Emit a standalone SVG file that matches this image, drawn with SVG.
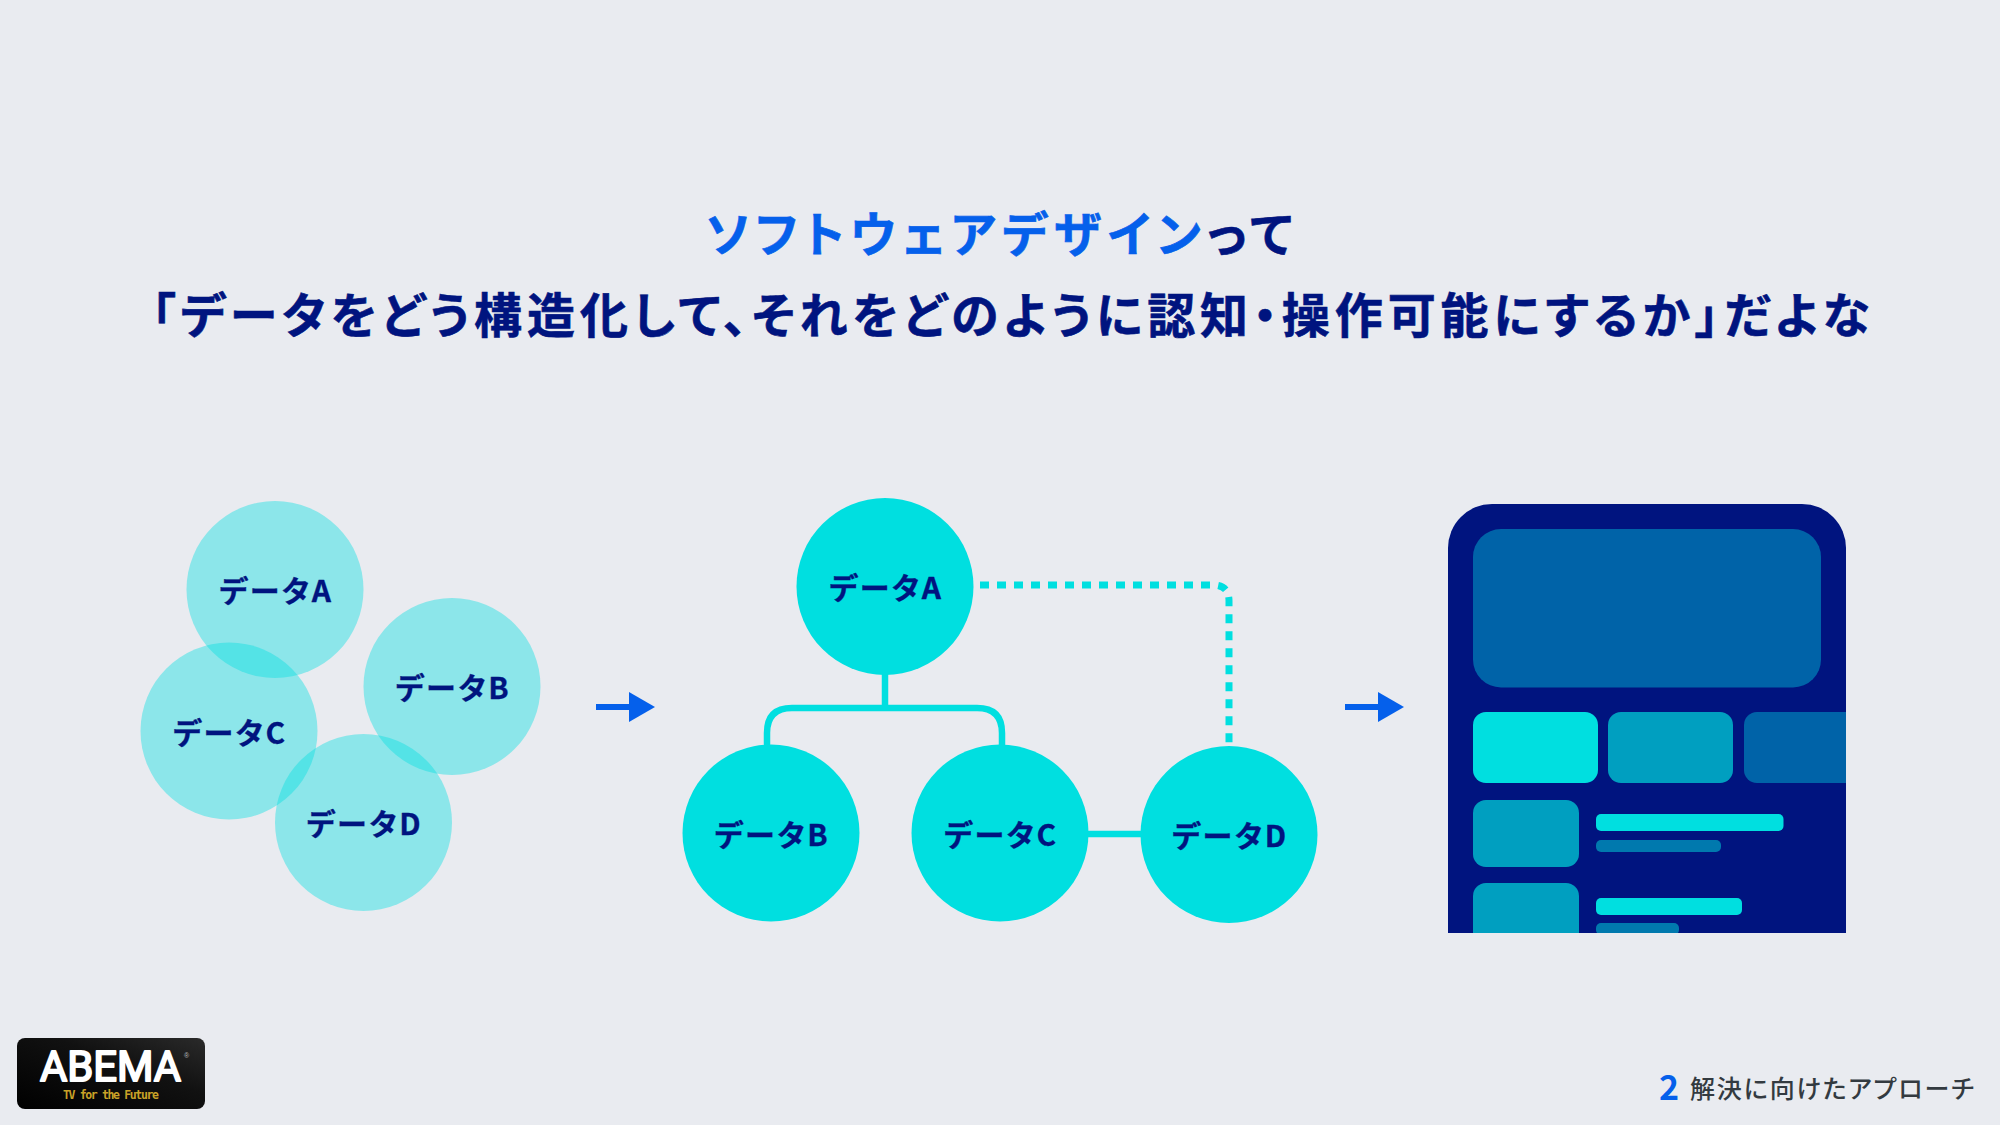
<svg xmlns="http://www.w3.org/2000/svg" width="2000" height="1125" viewBox="0 0 2000 1125">
<defs>
<style>
text{font-family:"Noto Sans CJK JP","Noto Sans",sans-serif;font-feature-settings:"palt"}
.t{font-size:48px;font-weight:700;fill:#00147f;stroke:#00147f;stroke-width:.6px;letter-spacing:4.9px}
.b{fill:#0560eb}
.t .b{stroke:#0560eb}
.l{font-size:30px;font-weight:700;fill:#00147f;stroke:#00147f;stroke-width:.3px;text-anchor:middle;letter-spacing:2.6px}
.s{fill:#00dfe0}
.c{fill:#00dfe0;fill-opacity:.4}
.w{fill:none;stroke:#00dfe0;stroke-width:6.5}
.m{fill:#0063a8}.n{fill:#009fc0}.o{fill:#0079ae}
</style>
<linearGradient id="lg" x1="0" y1="1" x2="1" y2="0"><stop offset="0" stop-color="#000"/><stop offset=".6" stop-color="#111"/><stop offset="1" stop-color="#2a2a2a"/></linearGradient>
<clipPath id="pc"><rect x="1448" y="504" width="398" height="429"/></clipPath>
</defs>
<rect width="2000" height="1125" fill="#e9ebf0"/>
<g id="title">
<text class="t" x="1002" y="252" text-anchor="middle" style="letter-spacing:6.3px"><tspan class="b">ソフトウェアデザイン</tspan>って</text>
<text class="t" x="1013" y="333" text-anchor="middle">「データをどう構造化して、それをどのように認知・操作可能にするか」だよな</text>
</g>
<g id="loose">
<g id="loose-a"><circle class="c" cx="275" cy="589.5" r="88.5"/><text class="l" x="276.500" y="602">データA</text></g>
<g id="loose-b"><circle class="c" cx="452" cy="686.5" r="88.5"/><text class="l" x="453.500" y="699">データB</text></g>
<g id="loose-c"><circle class="c" cx="229" cy="731" r="88.5"/><text class="l" x="230.500" y="743.500">データC</text></g>
<g id="loose-d"><circle class="c" cx="363.5" cy="822.5" r="88.5"/><text class="l" x="365" y="835">データD</text></g>
</g>
<g id="connectors">
<path class="w" d="M885 674V708"/>
<path class="w" d="M767 746V733Q767 708 792 708H977Q1002 708 1002 733V746"/>
<path class="w" d="M1087 834H1142"/>
<path class="w" style="stroke-width:7" d="M980 585H1213Q1229 585 1229 601V746" stroke-dasharray="9 8"/>
<g class="b"><rect x="596" y="704" width="35" height="6"/><path d="M629 692L655 707L629 722Z"/>
<rect x="1345" y="704" width="35" height="6"/><path d="M1378 692L1404 707L1378 722Z"/></g>
</g>
<g id="node-a"><circle class="s" cx="885" cy="586.5" r="88.5"/><text class="l" x="886.500" y="599">データA</text></g>
<g id="node-b"><circle class="s" cx="771" cy="833" r="88.5"/><text class="l" x="772.500" y="846">データB</text></g>
<g id="node-c"><circle class="s" cx="1000" cy="833" r="88.5"/><text class="l" x="1001.500" y="846">データC</text></g>
<g id="node-d"><circle class="s" cx="1229" cy="834.5" r="88.5"/><text class="l" x="1230.500" y="847">データD</text></g>
<g id="phone" clip-path="url(#pc)">
<rect x="1448" y="504" width="398" height="520" rx="44" fill="#00147f"/>
<rect class="m" x="1473" y="529" width="348" height="158.500" rx="28"/>
<rect class="s" x="1473" y="712" width="125" height="71" rx="13"/>
<rect class="n" x="1608" y="712" width="125" height="71" rx="13"/>
<rect class="m" x="1744" y="712" width="125" height="71" rx="13"/>
<rect class="n" x="1473" y="800" width="106" height="67" rx="13"/>
<rect class="s" x="1596" y="814" width="187.500" height="17" rx="5"/>
<rect class="o" x="1596" y="840" width="125" height="12" rx="5"/>
<rect class="n" x="1473" y="883" width="106" height="67" rx="13"/>
<rect class="s" x="1596" y="898" width="146" height="17" rx="5"/>
<rect class="o" x="1596" y="923" width="83" height="12" rx="5"/>
</g>
<g id="logo">
<rect x="17" y="1038" width="188" height="71" rx="8" fill="url(#lg)"/>
<text x="40" y="1081" font-size="43" font-weight="400" fill="#fff" stroke="#fff" stroke-width="2" stroke-linejoin="round" textLength="141" lengthAdjust="spacingAndGlyphs" style="font-family:Roboto,sans-serif">ABEMA</text>
<text x="184" y="1058" font-size="7" fill="#bbb" style="font-family:'Liberation Sans',sans-serif">®</text>
<text x="63" y="1099" font-size="11.500" font-weight="700" fill="#c9a227" textLength="96" style="font-family:'DejaVu Sans Mono',monospace">TV for the Future</text>
</g>
<g id="footer">
<text x="1659" y="1100" font-size="34" font-weight="700" fill="#0560eb">2</text>
<text x="1690" y="1098" font-size="25" font-weight="500" fill="#333a40" letter-spacing="1.85">解決に向けたアプローチ</text>
</g>
</svg>
